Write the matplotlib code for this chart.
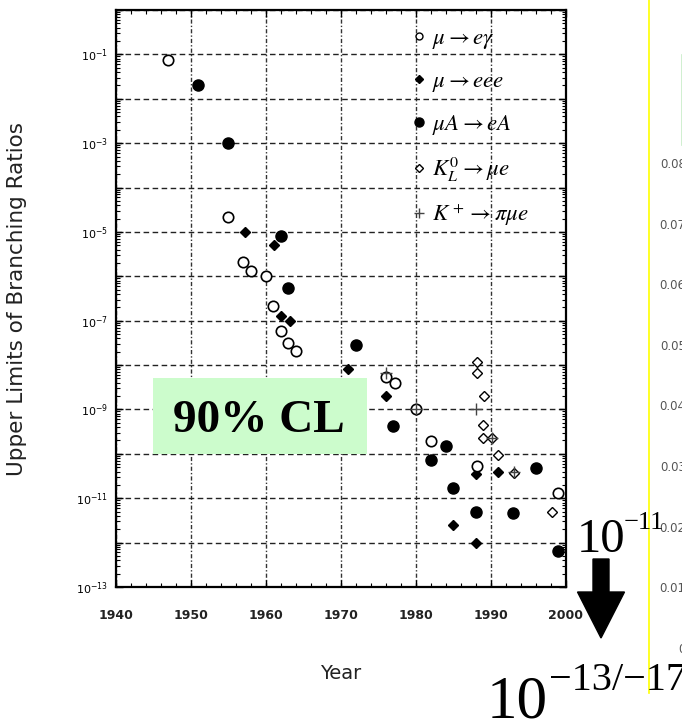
import numpy as np
import matplotlib
matplotlib.use('Agg')
import matplotlib.pyplot as plt
from matplotlib.lines import Line2D
from matplotlib.patches import Rectangle, FancyArrow
from matplotlib.ticker import FixedLocator, FuncFormatter, MultipleLocator, LogLocator, NullFormatter

# ---------------- data ----------------
meg_year = [1947, 1955, 1957, 1958, 1960, 1961, 1962, 1963, 1964, 1976, 1977.2, 1980, 1982, 1988.1, 1999]
meg_ul = [7.5e-2, 2.2e-5, 2.1e-6, 1.3e-6, 1.0e-6, 2.1e-7, 6.0e-8, 3.2e-8, 2.1e-8,
          5.4e-9, 4.0e-9, 1.05e-9, 1.9e-10, 5.4e-11, 1.3e-11]

eee_year = [1957.2, 1961.1, 1962, 1963.2, 1971, 1976, 1984, 1985, 1988, 1988, 1991]
eee_ul = [1.0e-5, 5.0e-6, 1.25e-7, 1.0e-7, 8.1e-9, 2.0e-9, 1.5e-10, 2.5e-12, 3.6e-11, 1.0e-12, 3.8e-11]

mue_year = [1951, 1955, 1962, 1963, 1972, 1977, 1982, 1984, 1985, 1988, 1993, 1996, 1999]
mue_ul = [2.0e-2, 1.0e-3, 8.3e-6, 5.5e-7, 2.8e-8, 4.2e-10, 7.2e-11, 1.5e-10, 1.7e-11,
          4.9e-12, 4.7e-12, 4.9e-11, 6.5e-13]

kl_year = [1988.2, 1988.2, 1989.1, 1989, 1989, 1990.2, 1991, 1993.1, 1998.1]
kl_ul = [1.2e-8, 6.6e-9, 2.0e-9, 4.4e-10, 2.3e-10, 2.3e-10, 9.5e-11, 3.7e-11, 4.9e-12]

kp_year = [1976, 1980, 1988, 1990.2, 1993.1]
kp_ul = [6.5e-9, 1.0e-9, 1.05e-9, 2.3e-10, 3.9e-11]

legend_labels = [r'$\mu \rightarrow e\gamma$', r'$\mu \rightarrow eee$', r'$\mu A \rightarrow eA$',
                 r'$K_L^0 \rightarrow \mu e$', r'$K^+ \rightarrow \pi\mu e$']

x_ticks = [1940, 1950, 1960, 1970, 1980, 1990, 2000]
y_exps = list(range(-13, 1))

right_ticks = [0, 0.01, 0.02, 0.03, 0.04, 0.05, 0.06, 0.07, 0.08]
right_labels = ['0', '0.01', '0.02', '0.03', '0.04', '0.05', '0.06', '0.07', '0.08']

# ---------------- figure ----------------
W, H = 682, 721
fig = plt.figure(figsize=(W / 100, H / 100), dpi=100)
fig.patch.set_facecolor('white')

ax = fig.add_axes([116 / W, 1 - 587 / H, 450 / W, 577 / H])
ax.set_yscale('log')
ax.set_xlim(1940, 2000)
ax.set_ylim(1e-13, 1)

# grid
ax.set_axisbelow(True)
ax.grid(True, which='major', axis='y', color='#222222', ls=(0, (4, 2.5)), lw=1.0)
ax.grid(True, which='major', axis='x', color='#333333', ls=(0, (3, 1.5, 1, 1.5)), lw=1.0)

# green "90% CL" box
ax.add_patch(Rectangle((0.082, 0.2305), 0.476, 0.1315, transform=ax.transAxes,
                       facecolor='#ccfccc', edgecolor='none', zorder=2))
ax.text(0.317, 0.2686, '90% CL', transform=ax.transAxes, ha='center', va='baseline',
        fontsize=34, fontweight='bold', family='Liberation Serif', zorder=2.5)

# data
z = 4
ax.plot(mue_year, mue_ul, ls='none', marker='o', ms=8, mfc='black', mec='black', zorder=z)
ax.plot(eee_year, eee_ul, ls='none', marker='D', ms=5.5, mfc='black', mec='black', zorder=z)
ax.plot(meg_year, meg_ul, ls='none', marker='o', ms=7.5, mfc='white', mec='black', mew=1.2, zorder=z)
ax.plot(kl_year, kl_ul, ls='none', marker='D', ms=5.2, mfc='white', mec='black', mew=1.0, zorder=z)
ax.plot(kp_year, kp_ul, ls='none', marker='+', ms=8, mec='#444444', mew=1.0, zorder=z + 1)

# ticks
ax.xaxis.set_major_locator(FixedLocator(x_ticks))
ax.xaxis.set_minor_locator(MultipleLocator(2))
ax.yaxis.set_major_locator(FixedLocator([10.0 ** e for e in y_exps]))
ax.yaxis.set_minor_locator(LogLocator(base=10, subs=np.arange(2, 10), numticks=100))
ax.yaxis.set_minor_formatter(NullFormatter())


def yfmt(v, pos):
    e = int(round(np.log10(v)))
    if e % 2 != 0:
        return r'$\mathregular{10^{%d}}$' % e
    return ''


ax.yaxis.set_major_formatter(FuncFormatter(yfmt))
ax.tick_params(which='both', direction='in', top=True, right=True, color='black')
ax.tick_params(which='major', length=5, width=1.0)
ax.tick_params(which='minor', length=3, width=0.8)
ax.tick_params(axis='x', which='major', pad=16, labelsize=9)
ax.tick_params(axis='y', which='major', pad=6, labelsize=8)
for lab in ax.get_xticklabels():
    lab.set_fontweight('bold')
    lab.set_color('#222222')

for s in ax.spines.values():
    s.set_linewidth(1.6)

ax.set_xlabel('Year', fontsize=14, color='#222222', labelpad=30)
ax.set_ylabel('Upper Limits of Branching Ratios', fontsize=15.5, color='#222222')
ax.yaxis.set_label_coords(-0.198, 0.5)

# legend
handles = [
    Line2D([], [], ls='none', marker='o', ms=5, mfc='white', mec='black', mew=1.0),
    Line2D([], [], ls='none', marker='D', ms=4, mfc='black', mec='black'),
    Line2D([], [], ls='none', marker='o', ms=6.5, mfc='black', mec='black'),
    Line2D([], [], ls='none', marker='D', ms=4, mfc='white', mec='black', mew=1.0),
    Line2D([], [], ls='none', marker='+', ms=7, mec='#444444', mew=1.0),
]
leg = ax.legend(handles, legend_labels, loc='upper left', bbox_to_anchor=(0.657, 0.972),
                frameon=False, fontsize=16.5, handlelength=0.6, handletextpad=0.3,
                labelspacing=0.78, borderpad=0, borderaxespad=0)
for t in leg.get_texts():
    t.set_math_fontfamily('stix')

# right-hand partial chart (clipped by figure edge)
ax2 = fig.add_axes([692 / W, 1 - 648 / H, 0.3, (648 - 163) / H])
ax2.set_ylim(0, 0.08)
ax2.set_yticks(right_ticks)
ax2.set_yticklabels(right_labels)
ax2.set_xticks([])
ax2.tick_params(axis='y', length=0, pad=4.5, labelsize=8.5, labelcolor='#555555')
for s in ax2.spines.values():
    s.set_visible(False)
ax2.patch.set_visible(False)

fig.add_artist(Line2D([649 / W, 649 / W], [1, 1 - 693 / H], color='#ffff00', lw=1.2))
fig.add_artist(Line2D([681.5 / W, 681.5 / W], [1 - 55 / H, 1 - 145 / H], color='#c8ecc8', lw=1.2))

# big annotations (base and superscript as separate real texts)
serif = 'Liberation Serif'
fig.text(577 / W, 1 - 552 / H, '10', fontsize=35, family=serif, ha='left', va='baseline')
fig.text(624 / W, 1 - 529 / H, '\u221211', fontsize=19, family=serif, ha='left', va='baseline')
fig.text(487 / W, 1 - 717 / H, '10', fontsize=44, family=serif, ha='left', va='baseline')
fig.text(549 / W, 1 - 690 / H, '\u221213/\u221217', fontsize=29, family=serif, ha='left', va='baseline')

fig.add_artist(FancyArrow(6.01, (H - 559) / 100, 0, -(638 - 559) / 100, width=0.16,
                          head_width=0.47, head_length=0.46, length_includes_head=True,
                          transform=fig.dpi_scale_trans, color='black'))

fig.savefig('out.png', dpi=100)
